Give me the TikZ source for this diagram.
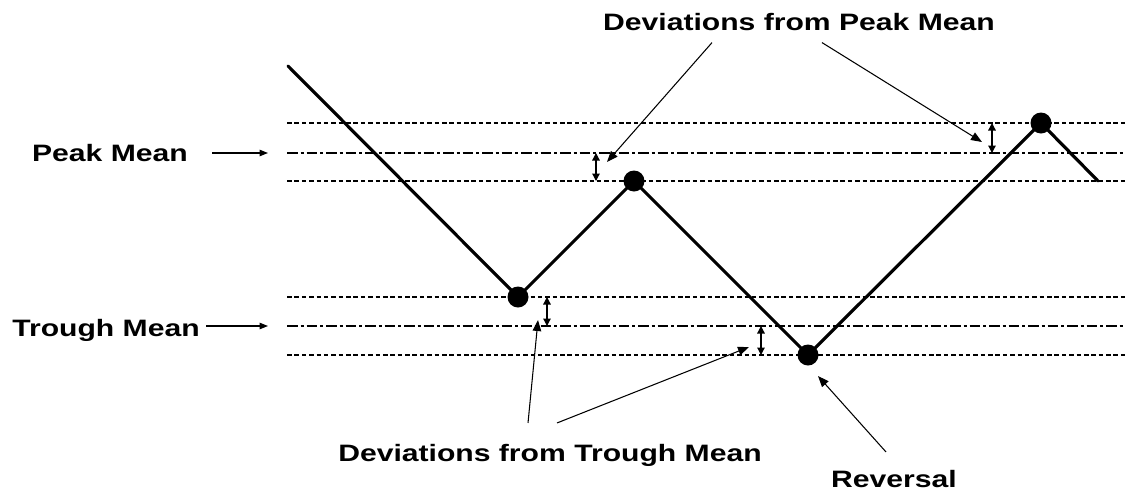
\documentclass[tikz,border=0pt]{standalone}
\usepackage{fontspec}
\newfontfamily\lblfont[FakeStretch=1.27]{Liberation Sans}
\usetikzlibrary{arrows.meta}

\begin{document}
\begin{tikzpicture}[
    x=0.02cm, y=-0.02cm,
    lbl/.style={
        font={\fontsize{13.5}{16}\selectfont\lblfont\bfseries},
        inner sep=0pt,
        anchor=base
    },
    price/.style={
        line width=1.8pt,
        line cap=round
    },
    level/.style={
        line width=0.6pt,
        dash pattern=on 2.6pt off 1.6pt
    },
    mean/.style={
        line width=0.6pt,
        dash pattern=on 6pt off 1.7pt on 1.7pt off 1.7pt
    },
    point/.style={
        circle,
        fill,
        inner sep=0pt,
        minimum size=0.42cm
    },
    dev/.style={
        {Triangle[length=0.15cm,width=0.15cm]}-{Triangle[length=0.15cm,width=0.15cm]},
        line width=0.7pt
    },
    pointer/.style={
        -{Triangle[length=0.22cm,width=0.17cm]},
        line width=0.6pt
    },
    meanarrow/.style={
        -{Triangle[length=0.17cm,width=0.13cm]},
        line width=0.7pt
    }
]
\useasboundingbox (0,0) rectangle (1130,491);

% ------------------------------------------------------------------
% LEVELS
% ------------------------------------------------------------------

\draw[level] (287,123) -- (1125,123);
\draw[mean]  (287,153) -- (1125,153);
\draw[level] (287,181) -- (1125,181);

\draw[level] (287,297) -- (1125,297);
\draw[mean]  (287,326) -- (1125,326);
\draw[level] (287,355) -- (1125,355);

% ------------------------------------------------------------------
% PRICE PATH
% ------------------------------------------------------------------

\coordinate (start) at (288,66);
\node[point] (trough1) at (518,297) {};
\node[point] (peak1) at (634,181) {};
\node[point] (trough2) at (808,355) {};
\node[point] (peak2) at (1041,123) {};
\coordinate (finish) at (1098,181);

\draw[price] (start) -- (trough1.center) -- (peak1.center)
    -- (trough2.center) -- (peak2.center) -- (finish);

% ------------------------------------------------------------------
% DEVIATIONS
% ------------------------------------------------------------------

\draw[dev] (596,153) -- (596,181);
\draw[dev] (992,123) -- (992,153);
\draw[dev] (547,297) -- (547,326);
\draw[dev] (761,326) -- (761,355);

% ------------------------------------------------------------------
% LABELS
% ------------------------------------------------------------------

\node[lbl] (peaklab) at (110,161) {Peak Mean};
\node[lbl] (troughlab) at (106,336) {Trough Mean};
\node[lbl] (devpeak) at (799,30) {Deviations from Peak Mean};
\node[lbl] (devtrough) at (550,461) {Deviations from Trough Mean};
\node[lbl] (reversal) at (894,487) {Reversal};

\coordinate (peakin) at (268,153);
\coordinate (troughin) at (268,326);
\coordinate (devpeakA) at (607,162);
\coordinate (devpeakB) at (982,142);
\coordinate (devtroughA) at (538,320);
\coordinate (devtroughB) at (749,347);
\coordinate (revtip) at (818,376);

% ------------------------------------------------------------------
% CONNECTIONS
% ------------------------------------------------------------------

\draw[meanarrow, shorten <=0.48cm] (peaklab.east |- peakin) -- (peakin);
\draw[meanarrow, shorten <=0.12cm] (troughlab.east |- troughin) -- (troughin);

\draw[pointer] ([xshift=-1.74cm,yshift=-0.24cm]devpeak.south) -- (devpeakA);
\draw[pointer] ([xshift=0.46cm,yshift=-0.24cm]devpeak.south) -- (devpeakB);

\draw[pointer] ([xshift=-0.44cm,yshift=0.41cm]devtrough.north) -- (devtroughA);
\draw[pointer] ([xshift=0.14cm,yshift=0.41cm]devtrough.north) -- (devtroughB);

\draw[pointer] ([xshift=-0.16cm,yshift=0.35cm]reversal.north) -- (revtip);

\end{tikzpicture}
\end{document}
